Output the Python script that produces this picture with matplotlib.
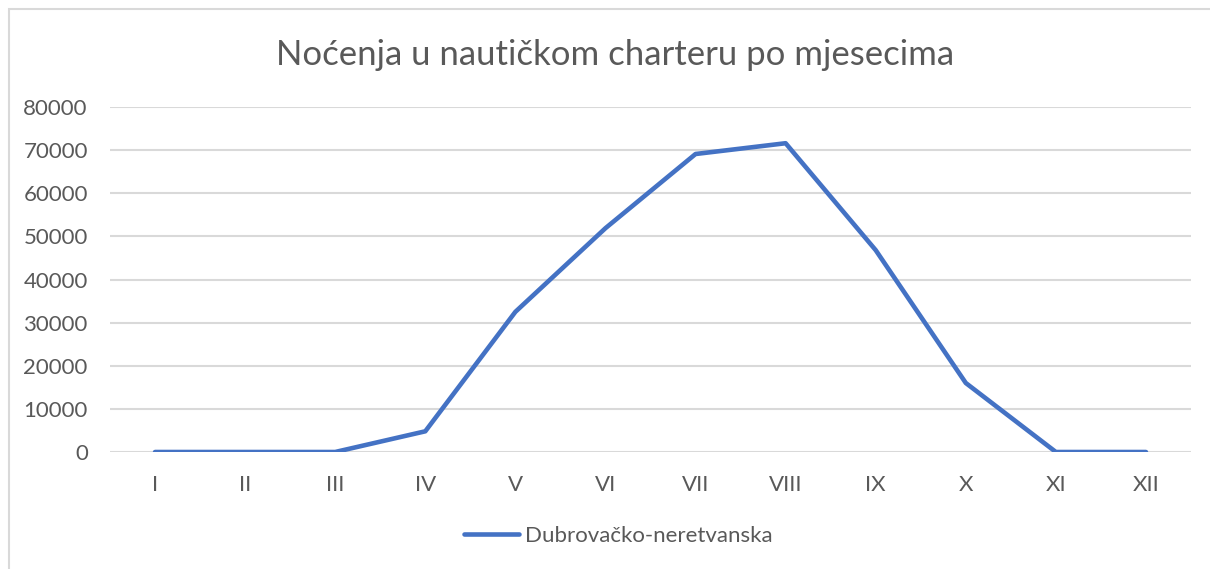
import matplotlib.pyplot as plt
from matplotlib.patches import Rectangle

# Data
months = ["I", "II", "III", "IV", "V", "VI", "VII", "VIII", "IX", "X", "XI", "XII"]
nocenja = [0, 0, 0, 4800, 32500, 51900, 69100, 71600, 46800, 16000, 0, 0]
series_name = "Dubrovačko-neretvanska"
title = "Noćenja u nautičkom charteru po mjesecima"
y_ticks = list(range(0, 80001, 10000))

text_color = "#595959"
grid_color = "#D9D9D9"
line_color = "#4472C4"

plt.rcParams["font.family"] = ["Lato", "DejaVu Sans"]

W, H = 1210, 569
fig = plt.figure(figsize=(W / 100, H / 100), dpi=100)

# light border around the chart area
fig.patches.append(Rectangle((9 / W, -0.05), 1.1, 1 - 9 / H + 0.05,
                             transform=fig.transFigure, fill=False,
                             edgecolor=grid_color, linewidth=1.5))

ax = fig.add_axes([110 / W, 1 - 452 / H, (1191 - 110) / W, (452 - 107) / H])
x = list(range(len(months)))
ax.plot(x, nocenja, color=line_color, linewidth=3.3,
        solid_capstyle="round", solid_joinstyle="round", label=series_name, zorder=3)

ax.set_xlim(-0.5, len(months) - 0.5)
ax.set_ylim(0, 80000)
ax.set_yticks(y_ticks)
ax.set_yticklabels([str(v) for v in y_ticks])
ax.set_xticks(x)
ax.set_xticklabels(months)
ax.tick_params(axis="both", length=0, labelsize=16, colors=text_color)
ax.tick_params(axis="y", pad=16)
ax.tick_params(axis="x", pad=16.5)
ax.grid(axis="y", color=grid_color, linewidth=1.5)
ax.set_axisbelow(True)
for s in ax.spines.values():
    s.set_visible(False)

fig.text(615 / W, 1 - 55 / H, title, ha="center", va="center",
         fontsize=25, color=text_color)

fig.legend(loc="center", bbox_to_anchor=(618 / W, 1 - 536 / H), frameon=False,
           fontsize=16, labelcolor=text_color, handlelength=2.5, handletextpad=0.25)

fig.savefig("out.png", dpi=100, facecolor="white")
